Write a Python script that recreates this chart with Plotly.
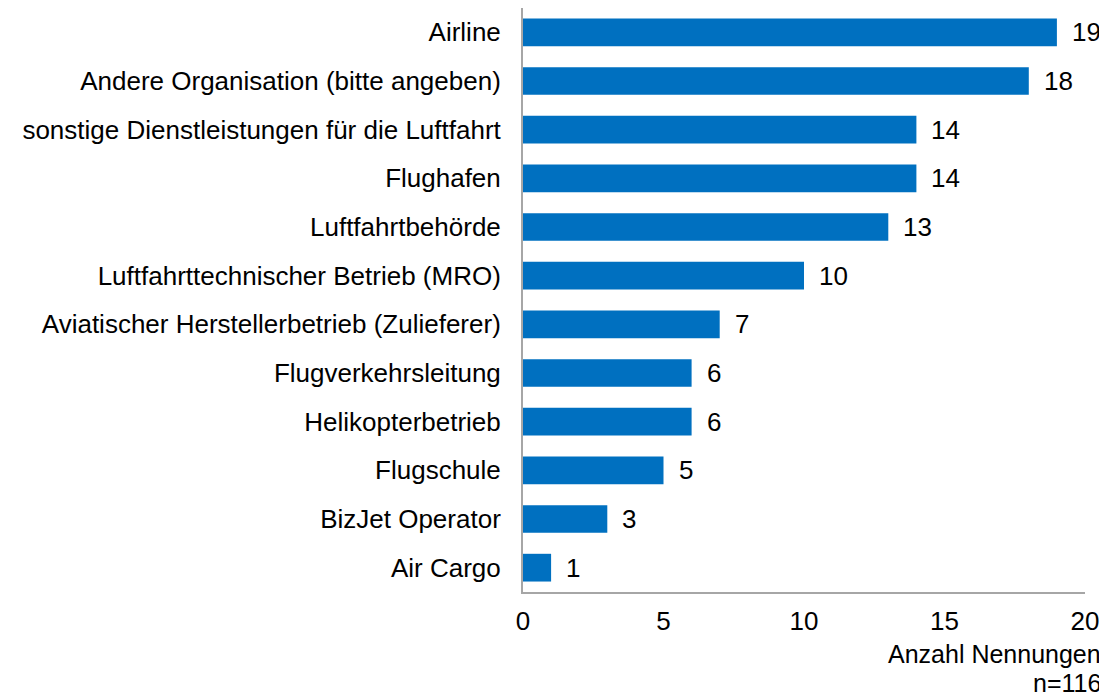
import plotly.graph_objects as go

categories = [
    "Airline",
    "Andere Organisation (bitte angeben)",
    "sonstige Dienstleistungen für die Luftfahrt",
    "Flughafen",
    "Luftfahrtbehörde",
    "Luftfahrttechnischer Betrieb (MRO)",
    "Aviatischer Herstellerbetrieb (Zulieferer)",
    "Flugverkehrsleitung",
    "Helikopterbetrieb",
    "Flugschule",
    "BizJet Operator",
    "Air Cargo",
]
values = [19, 18, 14, 14, 13, 10, 7, 6, 6, 5, 3, 1]
x_ticks = [0, 5, 10, 15, 20]
axis_title = "Anzahl Nennungen"
note = "n=116"

FONT = "Liberation Sans, Arial, sans-serif"
FS = 26

fig = go.Figure(
    go.Bar(
        x=values,
        y=categories,
        orientation="h",
        marker=dict(color="#0070C0", line=dict(width=0)),
        hoverinfo="x+y",
    )
)

for c, v in zip(categories, values):
    fig.add_annotation(
        x=v, y=c, text=str(v), showarrow=False, xanchor="left", xshift=13,
        font=dict(family=FONT, size=FS, color="#000000"),
    )

fig.add_annotation(
    x=1, y=0, xref="paper", yref="paper", yanchor="middle", xanchor="right",
    xshift=17, yshift=-62, showarrow=False, text=axis_title, borderpad=0,
    font=dict(family=FONT, size=25, color="#000000"),
)
fig.add_annotation(
    x=1, y=0, xref="paper", yref="paper", yanchor="middle", xanchor="right",
    xshift=17, yshift=-91, showarrow=False, text=note, borderpad=0,
    font=dict(family=FONT, size=25, color="#000000"),
)

fig.update_layout(
    width=1099,
    height=689,
    margin=dict(l=515, r=22, t=0, b=105),
    paper_bgcolor="white",
    plot_bgcolor="white",
    bargap=0.43,
    showlegend=False,
    font=dict(family=FONT, size=FS, color="#000000"),
    xaxis=dict(
        range=[0, 20],
        tickvals=x_ticks,
        showgrid=False,
        zeroline=False,
        showline=True,
        linecolor="#A6A6A6",
        linewidth=2,
        ticks="",
        ticklabelstandoff=5,
        tickfont=dict(family=FONT, size=FS, color="#000000"),
    ),
    yaxis=dict(
        autorange="reversed",
        showgrid=False,
        zeroline=False,
        showline=True,
        linecolor="#A6A6A6",
        linewidth=2,
        ticks="",
        ticklabelstandoff=15,
        tickfont=dict(family=FONT, size=FS, color="#000000"),
    ),
)

fig.write_html("out.html")
